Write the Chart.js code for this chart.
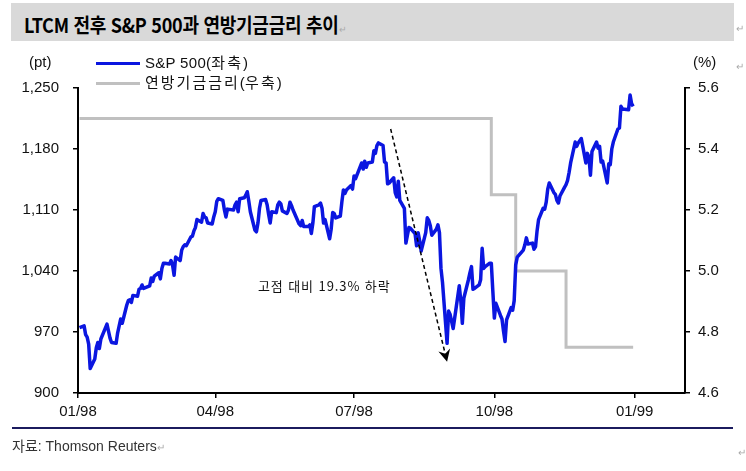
<!DOCTYPE html>
<html lang="ko">
<head>
<meta charset="utf-8">
<title>LTCM 전후 S&P 500과 연방기금금리 추이</title>
<script src="https://cdn.jsdelivr.net/npm/chart.js@4.4.1/dist/chart.umd.min.js"></script>
<style>
  html, body { margin: 0; padding: 0; background: #fff; }
  #wrap { position: relative; width: 746px; height: 471px; overflow: hidden;
          font-family: 'Liberation Sans', Arial, 'Noto Sans CJK KR', sans-serif; color: #111; }
  #chart { position: absolute; left: 0; top: 0; }
  .abs { position: absolute; white-space: nowrap; line-height: 1; }
  .title-bar { position: absolute; left: 11px; top: 3px; width: 723px; height: 38px; background: #d9d9d9; }
  .title { left: 24px; top: 10px; font: bold 20px 'Noto Sans CJK KR', sans-serif; color: #000;
           transform: scaleX(0.9); transform-origin: left top; letter-spacing: -0.3px; }
  .unit { top: 54px; font-size: 15px; }
  .legend-line { position: absolute; left: 96px; width: 44px; height: 3px; }
  .legend-text { left: 145px; font-size: 15px; letter-spacing: 0.3px; }
  .ko { letter-spacing: 2px; }
  .note { left: 258px; top: 276px; font: 13px 'Noto Sans CJK KR', sans-serif; color: #111; letter-spacing: 0.9px; }
  .src-rule { position: absolute; left: 12px; top: 427px; width: 721px; height: 1.5px; background: #1b1b5e; }
  .src { left: 12px; top: 439px; font-size: 14px; color: #333; }
  .mark { font-size: 10px; color: #aaa; letter-spacing: 0; }
</style>
</head>
<body>
<div id="wrap">
  <canvas id="chart" width="746" height="471"></canvas>
  <div class="title-bar"></div>
  <div class="abs title">LTCM 전후 S&amp;P 500과 연방기금금리 추이<span class="mark" style="font-weight:normal">&#8629;</span></div>
  <div class="abs mark" style="left:736px; top:24px;">&#8629;</div>
  <div class="abs unit" style="left:29px;">(pt)</div>
  <div class="abs unit" style="left:693px;">(%)</div>
  <div class="abs mark" style="left:736px; top:62px;">&#8629;</div>
  <div class="legend-line" style="top:62px; background:#0b16e0;"></div>
  <div class="abs legend-text" style="top:55px;">S&amp;P 500(<span class="ko">좌축</span>)</div>
  <div class="legend-line" style="top:82px; background:#c0c0c0;"></div>
  <div class="abs legend-text" style="top:75px;"><span class="ko">연방기금금리</span>(<span class="ko">우축</span>)</div>
  <div class="abs note">고점 대비 19.3% 하락</div>
  <div class="src-rule"></div>
  <div class="abs src">자료: Thomson Reuters<span class="mark">&#8629;</span></div>
  <div class="abs mark" style="left:738px; top:448px;">&#8629;</div>
</div>
<script>
// S&P 500 daily close, 1998 (MM-DD)
const spDates = [
  '01-02','01-05','01-06','01-07','01-08','01-09','01-12','01-13','01-14','01-15','01-16','01-20','01-21','01-22','01-23','01-26','01-27','01-28','01-29','01-30',
  '02-02','02-03','02-04','02-05','02-06','02-09','02-10','02-11','02-12','02-13','02-17','02-18','02-19','02-20','02-23','02-24','02-25','02-26','02-27',
  '03-02','03-03','03-04','03-05','03-06','03-09','03-10','03-11','03-12','03-13','03-16','03-17','03-18','03-19','03-20','03-23','03-24','03-25','03-26','03-27','03-30','03-31',
  '04-01','04-02','04-03','04-06','04-07','04-08','04-09','04-13','04-14','04-15','04-16','04-17','04-20','04-21','04-22','04-23','04-24','04-27','04-28','04-29','04-30',
  '05-01','05-04','05-05','05-06','05-07','05-08','05-11','05-12','05-13','05-14','05-15','05-18','05-19','05-20','05-21','05-22','05-26','05-27','05-28','05-29',
  '06-01','06-02','06-03','06-04','06-05','06-08','06-09','06-10','06-11','06-12','06-15','06-16','06-17','06-18','06-19','06-22','06-23','06-24','06-25','06-26','06-29','06-30',
  '07-01','07-02','07-06','07-07','07-08','07-09','07-10','07-13','07-14','07-15','07-16','07-17','07-20','07-21','07-22','07-23','07-24','07-27','07-28','07-29','07-30','07-31',
  '08-03','08-04','08-05','08-06','08-07','08-10','08-11','08-12','08-13','08-14','08-17','08-18','08-19','08-20','08-21','08-24','08-25','08-26','08-27','08-28','08-31',
  '09-01','09-02','09-03','09-04','09-08','09-09','09-10','09-11','09-14','09-15','09-16','09-17','09-18','09-21','09-22','09-23','09-24','09-25','09-28','09-29','09-30',
  '10-01','10-02','10-05','10-06','10-07','10-08','10-09','10-12','10-13','10-14','10-15','10-16','10-19','10-20','10-21','10-22','10-23','10-26','10-27','10-28','10-29','10-30',
  '11-02','11-03','11-04','11-05','11-06','11-09','11-10','11-11','11-12','11-13','11-16','11-17','11-18','11-19','11-20','11-23','11-24','11-25','11-27','11-30',
  '12-01','12-02','12-03','12-04','12-07','12-08','12-09','12-10','12-11','12-14','12-15','12-16','12-17','12-18','12-21','12-22','12-23','12-24','12-28','12-29','12-30','12-31'
];
const spValues = [
  975, 977, 967, 964, 956, 928, 939, 952, 958, 951, 962, 979, 971, 963, 958, 957, 969, 977, 985, 980,
  1001, 1006, 1007, 1004, 1012, 1011, 1019, 1020, 1024, 1020, 1023, 1032, 1028, 1034, 1038, 1031, 1043, 1049, 1049,
  1048, 1052, 1047, 1035, 1056, 1052, 1064, 1068, 1070, 1069, 1079, 1080, 1086, 1090, 1099, 1096, 1106, 1102, 1101, 1095, 1094, 1102,
  1108, 1120, 1123, 1121, 1110, 1102, 1111, 1110, 1116, 1119, 1108, 1123, 1124, 1127, 1131, 1120, 1108, 1087, 1085, 1095, 1112,
  1121, 1122, 1116, 1105, 1095, 1108, 1107, 1116, 1119, 1117, 1109, 1106, 1110, 1119, 1115, 1110, 1094, 1092, 1098, 1091,
  1091, 1093, 1083, 1095, 1114, 1116, 1118, 1112, 1095, 1099, 1077, 1088, 1107, 1106, 1101, 1103, 1119, 1133, 1129, 1133, 1138, 1134,
  1149, 1146, 1164, 1157, 1166, 1159, 1164, 1165, 1178, 1175, 1184, 1187, 1184, 1165, 1164, 1140, 1141, 1147, 1130, 1125, 1143, 1121,
  1112, 1072, 1081, 1090, 1089, 1083, 1069, 1084, 1075, 1063, 1084, 1101, 1098, 1092, 1081, 1088, 1093, 1084, 1043, 1027, 957,
  994, 990, 982, 974, 1023, 1006, 980, 1009, 1030, 1038, 1045, 1019, 1020, 1024, 1030, 1066, 1043, 1045, 1049, 1049, 1017,
  986, 1003, 989, 985, 971, 959, 984, 998, 995, 1006, 1047, 1056, 1062, 1064, 1070, 1078, 1071, 1072, 1065, 1068, 1086, 1099,
  1112, 1111, 1119, 1134, 1141, 1130, 1128, 1121, 1118, 1126, 1136, 1139, 1144, 1153, 1164, 1188, 1183, 1187, 1192, 1164,
  1175, 1171, 1150, 1177, 1188, 1181, 1183, 1165, 1166, 1141, 1163, 1162, 1180, 1188, 1203, 1204, 1229, 1226, 1225, 1242, 1232, 1229
];

// Fed funds target rate (%), value holds until next date
const rateDates = ['1998-01-02', '1998-09-29', '1998-10-15', '1998-11-17', '1998-12-31'];
const rateValues = [5.5, 5.25, 5.0, 4.75, 4.75];

const xTickDates = ['1998-01-01', '1998-04-01', '1998-07-01', '1998-10-01', '1999-01-01'];
const xTickLabels = ['01/98', '04/98', '07/98', '10/98', '01/99'];
const leftTicks = [900, 970, 1040, 1110, 1180, 1250];
const rightTicks = [4.6, 4.8, 5.0, 5.2, 5.4, 5.6];

const BLUE = '#0b16e0';
const GRAY = '#c0c0c0';
const X_MAX = 398; // axis runs a little past 01/99

function dayOf(s) {
  const [y, m, d] = s.split('-').map(Number);
  return (Date.UTC(y, m - 1, d) - Date.UTC(1998, 0, 1)) / 864e5;
}

const xTickDays = xTickDates.map(dayOf);
const spPoints = spDates.map((d, i) => ({ x: dayOf('1998-' + d), y: spValues[i] }));
const ratePoints = rateDates.map((d, i) => ({ x: dayOf(d), y: rateValues[i] }));

// dashed arrow from the July peak down to the late-August low
const ARROW_FROM = { x: dayOf('1998-07-25'), y: 1203 };
const ARROW_TO = { x: dayOf('1998-08-31'), y: 936 };

const tickFont = { family: "'Liberation Sans', Arial, sans-serif", size: 15 };
const axisGrid = { drawOnChartArea: false, drawTicks: true, tickLength: 5, color: '#000', lineWidth: 1.5 };
const axisBorder = { display: true, color: '#000', width: 2 };

const dropArrow = {
  id: 'dropArrow',
  afterDatasetsDraw(chart) {
    const { ctx, scales } = chart;
    const x1 = scales.x.getPixelForValue(ARROW_FROM.x), y1 = scales.y.getPixelForValue(ARROW_FROM.y);
    const x2 = scales.x.getPixelForValue(ARROW_TO.x), y2 = scales.y.getPixelForValue(ARROW_TO.y);
    const ang = Math.atan2(y2 - y1, x2 - x1);
    ctx.save();
    ctx.strokeStyle = '#000';
    ctx.lineWidth = 1.5;
    ctx.setLineDash([4, 3]);
    ctx.beginPath();
    ctx.moveTo(x1, y1);
    ctx.lineTo(x2 - 8 * Math.cos(ang), y2 - 8 * Math.sin(ang));
    ctx.stroke();
    ctx.setLineDash([]);
    ctx.translate(x2, y2);
    ctx.rotate(ang);
    ctx.fillStyle = '#000';
    ctx.beginPath();
    ctx.moveTo(0, 0);
    ctx.lineTo(-12, -6);
    ctx.lineTo(-8, 0);
    ctx.lineTo(-12, 6);
    ctx.closePath();
    ctx.fill();
    ctx.restore();
  }
};

new Chart(document.getElementById('chart'), {
  type: 'line',
  data: {
    datasets: [
      { label: 'S&P 500(좌축)', data: spPoints, yAxisID: 'y', borderColor: BLUE, borderWidth: 3.5,
        pointRadius: 0, tension: 0, fill: false, borderJoinStyle: 'round' },
      { label: '연방기금금리(우축)', data: ratePoints, yAxisID: 'y2', borderColor: GRAY, borderWidth: 3,
        pointRadius: 0, stepped: true, fill: false },
    ],
  },
  options: {
    responsive: false, animation: false,
    layout: { padding: { top: 88, left: 0, right: 0, bottom: 0 } },
    plugins: { legend: { display: false }, tooltip: { enabled: false } },
    scales: {
      x: {
        type: 'linear', min: 0, max: X_MAX,
        afterBuildTicks: s => { s.ticks = xTickDays.map(v => ({ value: v })); },
        afterFit: s => { s.height = 78; },
        ticks: { callback: (v, i) => xTickLabels[i], font: tickFont, color: '#111', padding: 5, maxRotation: 0, autoSkip: false },
        grid: axisGrid, border: axisBorder,
      },
      y: {
        position: 'left', min: 900, max: 1250,
        afterBuildTicks: s => { s.ticks = leftTicks.map(v => ({ value: v })); },
        afterFit: s => { s.width = 78; },
        ticks: { callback: v => v.toLocaleString('en-US'), font: tickFont, color: '#111', padding: 14 },
        grid: axisGrid, border: axisBorder,
      },
      y2: {
        position: 'right', min: 4.6, max: 5.6,
        afterBuildTicks: s => { s.ticks = rightTicks.map(v => ({ value: v })); },
        afterFit: s => { s.width = 61; },
        ticks: { callback: v => v.toFixed(1), font: tickFont, color: '#111', padding: 8 },
        grid: axisGrid, border: axisBorder,
      },
    },
  },
  plugins: [dropArrow],
});
</script>
</body>
</html>
